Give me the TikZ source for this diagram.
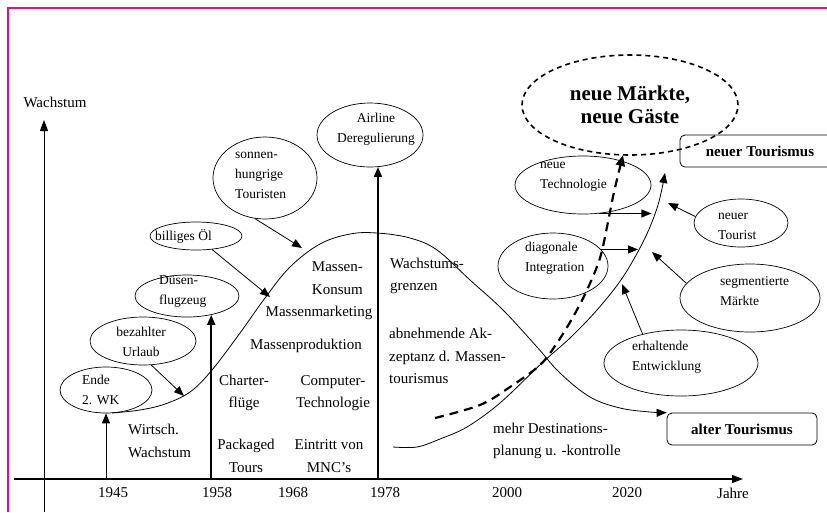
\documentclass[tikz,border=0pt]{standalone}
\usepackage{fontspec}
\setmainfont{Liberation Serif}
\usetikzlibrary{arrows.meta,shapes.geometric}
\definecolor{pinkframe}{RGB}{236,10,140}
\begin{document}
\begin{tikzpicture}[x=1pt,y=-1pt,
  txt/.style={font=\fontsize{15}{22.5}\selectfont, inner sep=0pt},
  small/.style={font=\fontsize{13.5}{20}\selectfont, inner sep=0pt, align=left},
  ell/.style={draw, ellipse, line width=0.7pt, inner sep=0pt},
  tbox/.style={draw, rectangle, rounded corners=5pt, line width=0.8pt, inner sep=0pt},
  tip/.style={-{Triangle[length=10pt,width=8pt]}},
  arr/.style={tip, line width=0.8pt},
  curve/.style={line width=0.8pt},
]
\useasboundingbox (0,0) rectangle (827,512);
% frame
\draw[pinkframe, line width=2pt] (7.5,512) -- (7.5,8) -- (827,8);

% axes
\coordinate (xa) at (14,479);
\coordinate (xe) at (743,479);
\coordinate (ya) at (44,512);
\coordinate (ye) at (44,120);
\draw[line width=1.2pt, -{Triangle[length=11pt,width=8pt]}] (xa) -- (xe);
\draw[line width=1pt, -{Triangle[length=11pt,width=8pt]}] (ya) -- (ye);
\node[txt] (wlab) at (55,102) {Wachstum};
\node[txt] (y1945) at (113,493) {1945};
\node[txt] (y1958) at (217,493) {1958};
\node[txt] (y1968) at (293,493) {1968};
\node[txt] (y1978) at (385,493) {1978};
\node[txt] (y2000) at (507,493) {2000};
\node[txt] (y2020) at (627,493) {2020};
\node[txt] (jahre) at (733,493) {Jahre};

% ellipses
\node[ell, minimum width=92pt, minimum height=46pt] (e1) at (106,390) {};
\node[small, anchor=west] at (82,390) {Ende\\2. WK};
\node[ell, minimum width=106pt, minimum height=48pt] (e2) at (143,341) {};
\node[small, align=center] at (141,342) {bezahlter\\Urlaub};
\node[ell, minimum width=104pt, minimum height=42pt] (e3) at (187,296) {};
\node[small, anchor=west] at (159,292) {Düsen-\\flugzeug};
\node[ell, minimum width=92pt, minimum height=28pt] (e4) at (196,236) {};
\node[small, anchor=west] at (155,236) {billiges Öl};
\node[ell, minimum width=104pt, minimum height=82pt] (e5) at (265,178) {};
\node[small, anchor=west] at (235,175) {sonnen-\\hungrige\\Touristen};
\node[ell, minimum width=106pt, minimum height=64pt] (e6) at (370,135) {};
\node[small, align=center] at (376,129) {Airline\\Deregulierung};
\node[ell, minimum width=136pt, minimum height=58pt] (e7) at (583,185) {};
\node[small, anchor=west] at (540,177) {neue\\Technologie};
\node[ell, minimum width=110pt, minimum height=66pt] (e8) at (553,266) {};
\node[small, anchor=west] at (525,258) {diagonale\\Integration};
\node[ell, minimum width=94pt, minimum height=48pt] (e9) at (741,223) {};
\node[small, anchor=west] at (718,226) {neuer\\Tourist};
\node[ell, minimum width=140pt, minimum height=68pt] (e10) at (750,298) {};
\node[small, anchor=west] at (720,291) {segmentierte\\Märkte};
\node[ell, minimum width=154pt, minimum height=66pt] (e11) at (681,363) {};
\node[small, anchor=west] at (632,357) {erhaltende\\Entwicklung};
\node[draw, ellipse, line width=1.6pt, dash pattern=on 5pt off 4pt, minimum width=216pt, minimum height=100pt, inner sep=0pt,
      font=\fontsize{21}{23}\selectfont\bfseries, align=center] (e12) at (630,105) {neue Märkte,\\neue Gäste};

% boxes
\node[tbox, minimum width=160pt, minimum height=32pt, font=\fontsize{15}{18}\selectfont\bfseries] (neu) at (760,151) {neuer Tourismus};
\node[tbox, minimum width=150pt, minimum height=32pt, font=\fontsize{15}{18}\selectfont\bfseries] (alt) at (742,429) {alter Tourismus};

% plain texts
\node[txt, align=left, anchor=west] at (128,441) {Wirtsch.\\Wachstum};
\node[txt, align=center] at (244,393) {Charter-\\flüge};
\node[txt, align=center] at (246,456) {Packaged\\Tours};
\node[txt, align=center] at (333,393) {Computer-\\Technologie};
\node[txt, align=center] at (329,456) {Eintritt von\\MNC's};
\node[txt] at (306,346) {Massenproduktion};
\node[txt] at (319,313) {Massenmarketing};
\node[txt, align=right, anchor=east] at (363,278) {Massen-\\Konsum};
\node[txt, align=left, anchor=west] at (390,276) {Wachstums-\\grenzen};
\node[txt, align=left, anchor=west] at (389,356) {abnehmende Ak-\\zeptanz d. Massen-\\tourismus};
\node[txt, align=left, anchor=west] at (493,441) {mehr Destinations-\\planung u. -kontrolle};

% vertical arrows from the time axis
\draw[arr, line width=1pt] (e1.south |- xa) -- (e1.south);
\draw[arr, line width=1.8pt] (e3.-38 |- xa) -- (e3.-38);
\draw[arr, line width=1.8pt] (e6.-76 |- xa) -- (e6.-76);

% main bell curve (alter Tourismus)
\draw[curve, tip] plot[smooth, tension=0.6] coordinates {
  (112,413) (140,410) (165,404) (190,392) (212,370) (240,333) (265,298) (290,267)
  (320,244) (350,234) (377,233) (410,238) (437,250) (470,280) (503,310)
  (537,347) (560,373) (590,397) (620,408) (650,412) (alt.north west)};

% rising curve (neuer Tourismus)
\draw[curve, tip] plot[smooth, tension=0.55] coordinates {
  (393,447) (417,447) (440,439) (467,427) (500,403) (543,362) (570,338)
  (597,310) (623,277) (645,238) (658,205) (665,173)};

% dashed thick curve to neue Maerkte
\draw[line width=2.2pt, dash pattern=on 9pt off 6pt, -{Triangle[length=11pt,width=9pt]}]
  plot[smooth, tension=0.55] coordinates {
  (435,418) (480,405) (510,387) (540,365) (557,343) (573,317) (587,290)
  (600,258) (608,222) (614,192) (623,155)};

% influence arrows
\coordinate (t1) at (184,396);
\coordinate (t2) at (270,297);
\coordinate (t3) at (302,248);
\coordinate (t4) at (668,203);
\coordinate (t5) at (652,252);
\coordinate (t6) at (622,284);
\draw[arr] (e2.289) -- (t1);
\draw[arr] (e4.-40) -- (t2);
\draw[arr] (e5.256) -- (t3);
\draw[arr] (e9.172) -- (t4);
\draw[arr] (e10.167) -- (t5);
\draw[arr] (e11.143) -- (t6);
\draw[arr] (e7.300) -- ++(52,0) coordinate (t7);
\draw[arr] (e8.19) -- ++(37,0) coordinate (t8);
\end{tikzpicture}
\end{document}
